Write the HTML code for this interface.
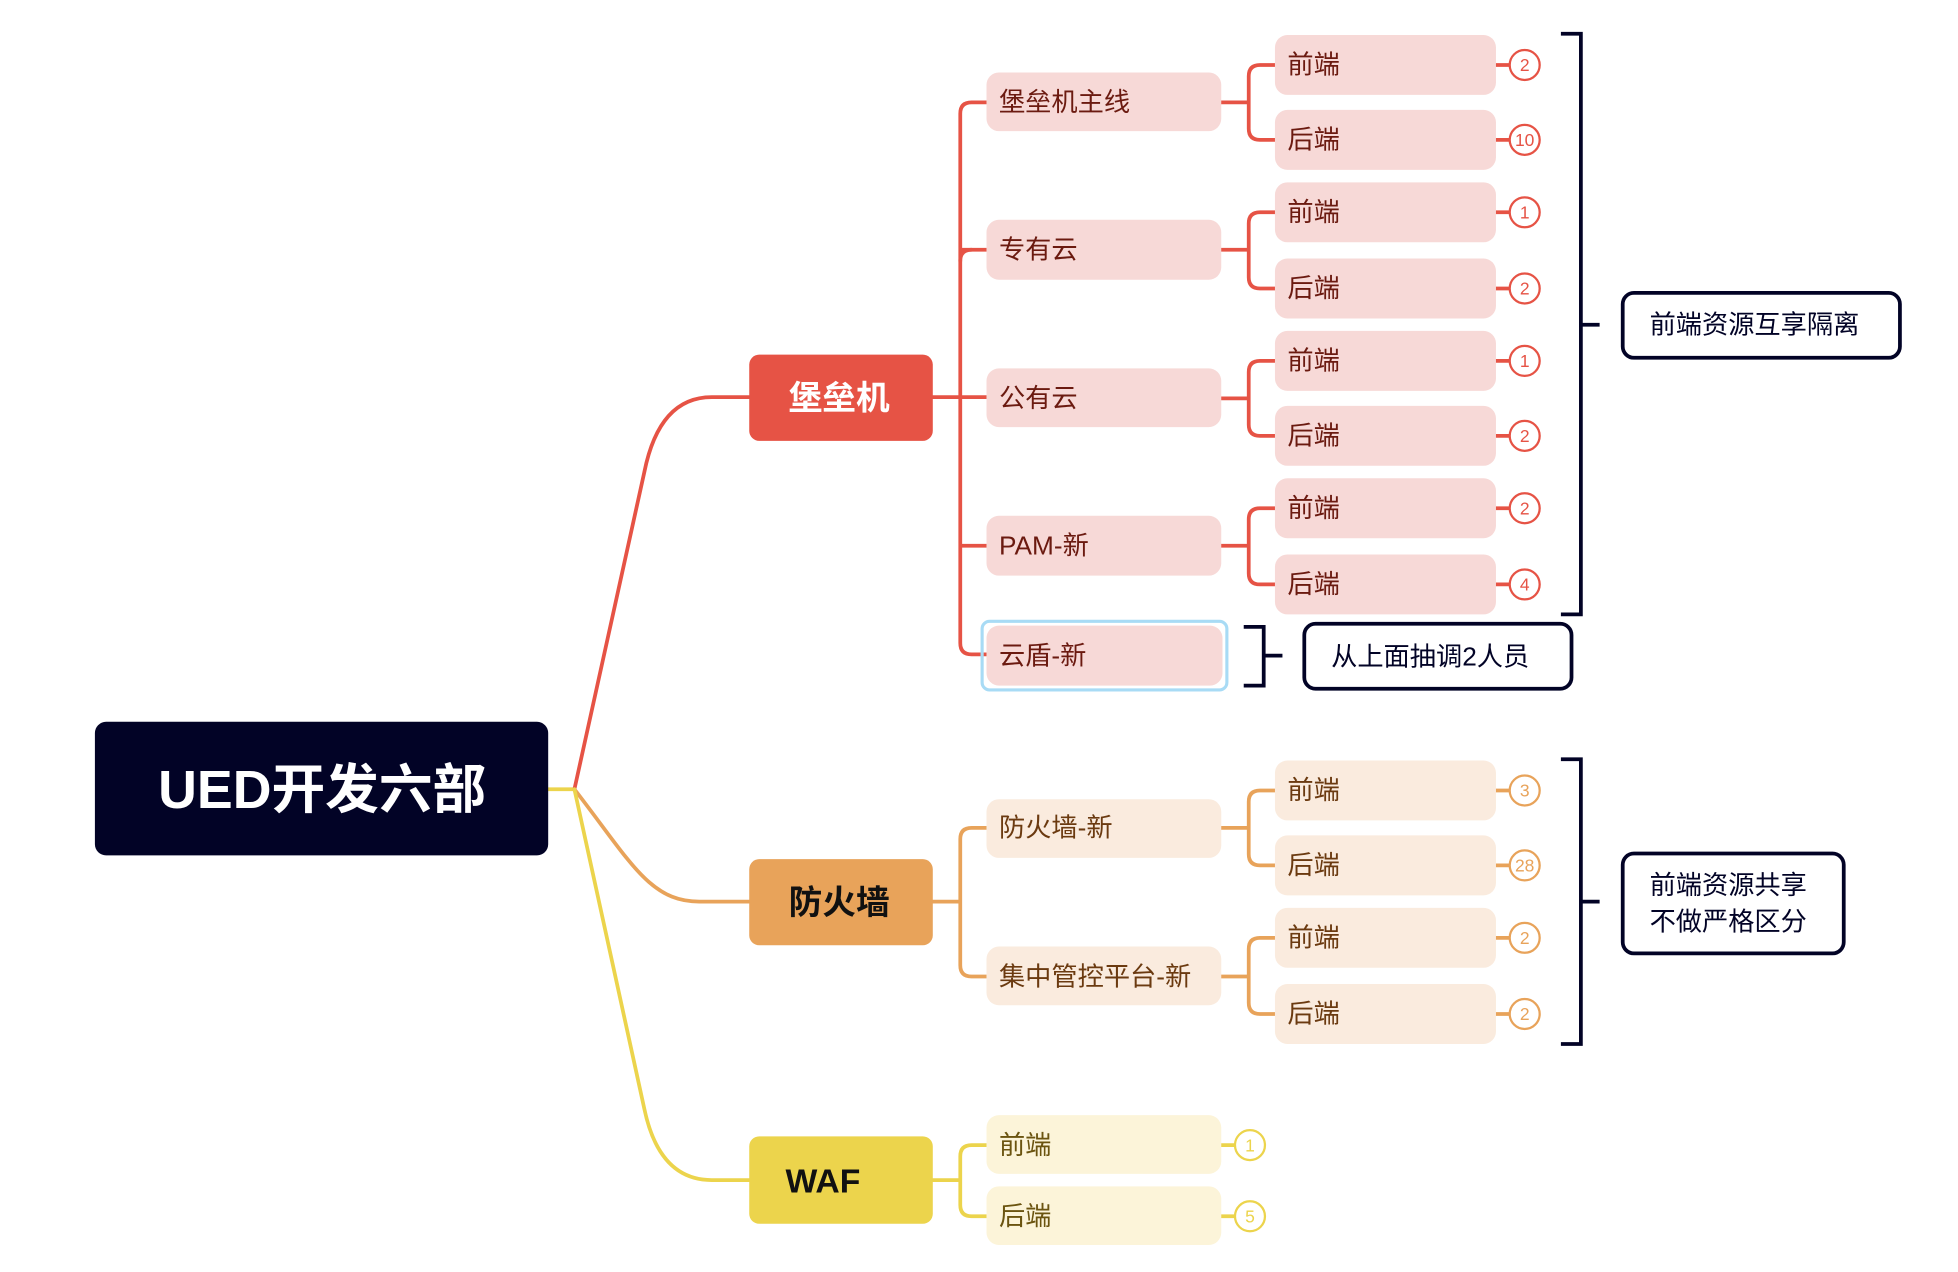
<!DOCTYPE html>
<html><head><meta charset="utf-8"><style>
html,body{margin:0;padding:0;background:#fff;width:1958px;height:1272px;overflow:hidden}
svg{display:block}
text{font-family:"Liberation Sans","Noto Sans CJK SC",sans-serif}
</style></head><body>
<svg width="1958" height="1272" viewBox="0 0 1568 1018.6" xmlns="http://www.w3.org/2000/svg">
<g fill="none" stroke-width="3" stroke-linecap="round">
<path d="M439,632 H460" stroke="#ecd44c"/>
<path d="M460,632 L516,378 Q528,318 570,318 H600" stroke="#e65345"/>
<path d="M460,632 C505,690 520,722 560,722 H600" stroke="#e8a35a"/>
<path d="M460,632 L516,888 Q528,945 570,945 H600" stroke="#ecd44c"/>
<path d="M747,318 H790 M790,82 H778 Q769,82 769,91 V515 Q769,524 778,524 H790 M769,200 Q769,200 790,200 M769,437 H790" stroke="#e65345"/>
<path d="M778,200 Q769,200 769,209" stroke="#e65345"/>
<path d="M978,82 H1000 M1021,52 H1009 Q1000,52 1000,61 V103 Q1000,112 1009,112 H1021" stroke="#e65345"/>
<path d="M978,200 H1000 M1021,170 H1009 Q1000,170 1000,179 V222 Q1000,231 1009,231 H1021" stroke="#e65345"/>
<path d="M978,319 H1000 M1021,289 H1009 Q1000,289 1000,298 V340 Q1000,349 1009,349 H1021" stroke="#e65345"/>
<path d="M978,437 H1000 M1021,407 H1009 Q1000,407 1000,416 V459 Q1000,468 1009,468 H1021" stroke="#e65345"/>
<path d="M747,722 H769 M790,663 H778 Q769,663 769,672 V773 Q769,782 778,782 H790" stroke="#e8a35a"/>
<path d="M978,663 H1000 M1021,633 H1009 Q1000,633 1000,642 V684 Q1000,693 1009,693 H1021" stroke="#e8a35a"/>
<path d="M978,782 H1000 M1021,751 H1009 Q1000,751 1000,760 V803 Q1000,812 1009,812 H1021" stroke="#e8a35a"/>
<path d="M747,945 H769 M790,917 H778 Q769,917 769,926 V965 Q769,974 778,974 H790" stroke="#ecd44c"/>
<g stroke="#e65345"><path d="M1198,52H1209M1198,112H1209M1198,170H1209M1198,231H1209M1198,289H1209M1198,349H1209M1198,407H1209M1198,468H1209"/></g>
<g stroke="#e8a35a"><path d="M1198,633H1209M1198,693H1209M1198,751H1209M1198,812H1209"/></g>
<g stroke="#ecd44c"><path d="M978,917H989M978,974H989"/></g>
<g stroke="#020326" stroke-linecap="butt">
<path d="M1250,27 H1266 V492 H1250 M1266,260 H1281"/>
<path d="M996,502 H1012 V549 H996 M1012,525 H1027"/>
<path d="M1250,608 H1266 V836 H1250 M1266,722 H1281"/>
</g>
</g>
<rect x="76" y="578" width="363" height="107" rx="9" fill="#020326"/>
<text x="258" y="647" font-size="43" font-weight="bold" fill="#fff" text-anchor="middle">UED开发六部</text>
<rect x="600" y="284" width="147" height="69" rx="8" fill="#e65345"/>
<text x="672" y="328" font-size="27" font-weight="bold" fill="#fff" text-anchor="middle">堡垒机</text>
<rect x="600" y="688" width="147" height="69" rx="8" fill="#e8a35a"/>
<text x="672" y="732" font-size="27" font-weight="bold" fill="#111" text-anchor="middle">防火墙</text>
<rect x="600" y="910" width="147" height="70" rx="8" fill="#ecd44c"/>
<text x="629" y="955" font-size="27" font-weight="bold" fill="#111">WAF</text>
<g fill="#f7d9d7">
<rect x="790" y="58" width="188" height="47" rx="10"/>
<rect x="790" y="176" width="188" height="48" rx="10"/>
<rect x="790" y="295" width="188" height="47" rx="10"/>
<rect x="790" y="413" width="188" height="48" rx="10"/>
<rect x="790" y="501" width="189" height="48" rx="10"/>
</g>
<rect x="786.5" y="497.5" width="196" height="55" rx="6" fill="none" stroke="#a8dbf5" stroke-width="2.5"/>
<g font-size="21" fill="#6b1a10">
<text x="800" y="89">堡垒机主线</text>
<text x="800" y="207">专有云</text>
<text x="800" y="326">公有云</text>
<text x="800" y="444">PAM-新</text>
<text x="800" y="532">云盾-新</text>
</g>
<g fill="#f7d9d7">
<rect x="1021" y="28" width="177" height="48" rx="10"/><rect x="1021" y="88" width="177" height="48" rx="10"/>
<rect x="1021" y="146" width="177" height="48" rx="10"/><rect x="1021" y="207" width="177" height="48" rx="10"/>
<rect x="1021" y="265" width="177" height="48" rx="10"/><rect x="1021" y="325" width="177" height="48" rx="10"/>
<rect x="1021" y="383" width="177" height="48" rx="10"/><rect x="1021" y="444" width="177" height="48" rx="10"/>
</g>
<g font-size="21" fill="#6b1a10">
<text x="1031" y="59">前端</text><text x="1031" y="119">后端</text>
<text x="1031" y="177">前端</text><text x="1031" y="238">后端</text>
<text x="1031" y="296">前端</text><text x="1031" y="356">后端</text>
<text x="1031" y="414">前端</text><text x="1031" y="475">后端</text>
</g>
<g fill="#fff" stroke="#e65345" stroke-width="1.8">
<circle cx="1221" cy="52" r="12"/><circle cx="1221" cy="112" r="12"/><circle cx="1221" cy="170" r="12"/><circle cx="1221" cy="231" r="12"/>
<circle cx="1221" cy="289" r="12"/><circle cx="1221" cy="349" r="12"/><circle cx="1221" cy="407" r="12"/><circle cx="1221" cy="468" r="12"/>
</g>
<g font-size="14" fill="#e65345" text-anchor="middle">
<text x="1221" y="57">2</text><text x="1221" y="117">10</text><text x="1221" y="175">1</text><text x="1221" y="236">2</text>
<text x="1221" y="294">1</text><text x="1221" y="354">2</text><text x="1221" y="412">2</text><text x="1221" y="473">4</text>
</g>
<g fill="#faebde">
<rect x="790" y="640" width="188" height="47" rx="10"/><rect x="790" y="758" width="188" height="47" rx="10"/>
<rect x="1021" y="609" width="177" height="48" rx="10"/><rect x="1021" y="669" width="177" height="48" rx="10"/>
<rect x="1021" y="727" width="177" height="48" rx="10"/><rect x="1021" y="788" width="177" height="48" rx="10"/>
</g>
<g font-size="21" fill="#6b3a10">
<text x="800" y="670">防火墙-新</text><text x="800" y="789">集中管控平台-新</text>
<text x="1031" y="640">前端</text><text x="1031" y="700">后端</text>
<text x="1031" y="758">前端</text><text x="1031" y="819">后端</text>
</g>
<g fill="#fff" stroke="#e8a35a" stroke-width="1.8">
<circle cx="1221" cy="633" r="12"/><circle cx="1221" cy="693" r="12"/><circle cx="1221" cy="751" r="12"/><circle cx="1221" cy="812" r="12"/>
</g>
<g font-size="14" fill="#e8a35a" text-anchor="middle">
<text x="1221" y="638">3</text><text x="1221" y="698">28</text><text x="1221" y="756">2</text><text x="1221" y="817">2</text>
</g>
<g fill="#fcf4d9">
<rect x="790" y="893" width="188" height="47" rx="10"/><rect x="790" y="950" width="188" height="47" rx="10"/>
</g>
<g font-size="21" fill="#6b5410"><text x="800" y="924">前端</text><text x="800" y="981">后端</text></g>
<g fill="#fff" stroke="#ecd44c" stroke-width="1.8"><circle cx="1001" cy="917" r="12"/><circle cx="1001" cy="974" r="12"/></g>
<g font-size="14" fill="#ecd44c" text-anchor="middle"><text x="1001" y="922">1</text><text x="1001" y="979">5</text></g>
<g fill="#fff" stroke="#020326" stroke-width="3">
<rect x="1299.5" y="234.5" width="222" height="52" rx="9"/>
<rect x="1044.5" y="499.5" width="214" height="52" rx="9"/>
<rect x="1299.5" y="683.5" width="177" height="80" rx="9"/>
</g>
<g font-size="21" fill="#020326">
<text x="1321" y="267">前端资源互享隔离</text>
<text x="1066" y="533">从上面抽调2人员</text>
<text x="1321" y="716">前端资源共享</text>
<text x="1321" y="745">不做严格区分</text>
</g>
</svg>
</body></html>
